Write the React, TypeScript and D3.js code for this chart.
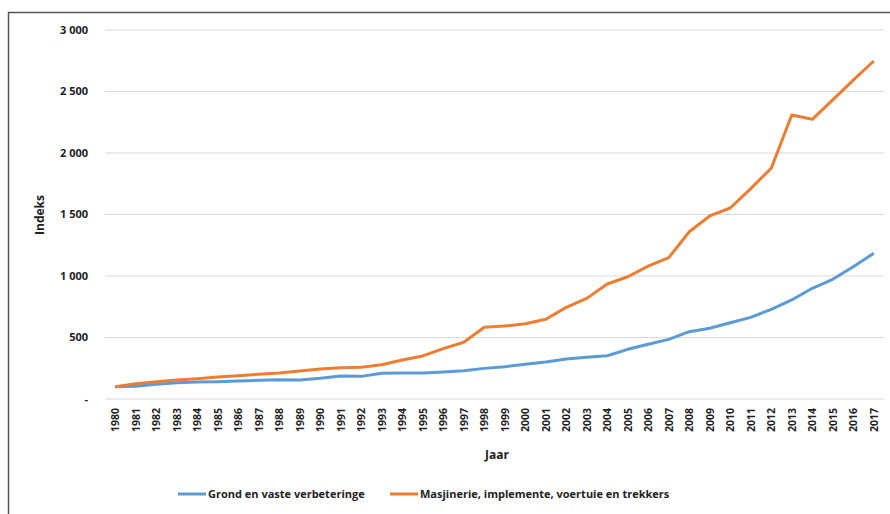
import React from "react";
import * as d3 from "d3";

const years = d3.range(1980, 2018).map(String);
const grond = [100, 104, 119, 133, 138, 141, 146, 152, 157, 154, 168, 187, 184, 209, 211, 212, 220, 230, 249, 263, 282, 301, 325, 340, 352, 404, 445, 485, 547, 575, 620, 664, 729, 805, 900, 973, 1075, 1184];
const masjinerie = [100, 124, 141, 154, 165, 179, 190, 201, 211, 228, 244, 255, 258, 279, 317, 350, 409, 461, 583, 593, 612, 648, 745, 818, 935, 994, 1080, 1149, 1360, 1488, 1553, 1710, 1876, 2309, 2274, 2432, 2592, 2748];
const yTicks = [0, 500, 1000, 1500, 2000, 2500, 3000];
const seriesNames = ["Grond en vaste verbeteringe", "Masjinerie, implemente, voertuie en trekkers"];
const colors = ["#5b9bd5", "#ed7d31"];

const W = 890, H = 514;
const left = 105, right = 884, top = 30, bottom = 399;
const font = "'Open Sans', sans-serif";

export default function App() {
  const x = d3.scaleBand<string>().domain(years).range([left, right]);
  const y = d3.scaleLinear().domain([0, 3000]).range([bottom, top]);
  const line = d3.line<number>()
    .x((_, i) => (x(years[i]) as number) + x.bandwidth() / 2)
    .y((d) => y(d));
  const fmt = (v: number) => (v === 0 ? "-" : d3.format(",")(v).replace(/,/g, " "));
  const data = [grond, masjinerie];
  return (
    <svg width={W} height={H} style={{ position: "absolute", left: 0, top: 0, background: "#fff" }}>
      <rect x={8.5} y={12.5} width={W} height={H} fill="none" stroke="#555" strokeWidth={1.5} />
      {yTicks.map((t) => (
        <g key={t}>
          <line x1={left} x2={right} y1={y(t)} y2={y(t)} stroke="#d9d9d9" strokeWidth={1.2} />
          <text x={88} y={y(t)} dy="0.35em" textAnchor="end" fontFamily={font} fontWeight={700} fontSize={11} fill="#222">
            {fmt(t)}
          </text>
        </g>
      ))}
      {years.map((yr) => {
        const cx = (x(yr) as number) + x.bandwidth() / 2;
        return (
          <text key={yr} transform={`translate(${cx + 4},${408}) rotate(-90)`} textAnchor="end" fontFamily={font} fontWeight={700} fontSize={10.5} fill="#222">
            {yr}
          </text>
        );
      })}
      {data.map((d, i) => (
        <path key={i} d={line(d) || ""} fill="none" stroke={colors[i]} strokeWidth={3} strokeLinejoin="round" />
      ))}
      <text transform={`translate(44,215) rotate(-90)`} textAnchor="middle" fontFamily={font} fontWeight={700} fontSize={12} fill="#222">
        Indeks
      </text>
      <text x={497} y={459} textAnchor="middle" fontFamily={font} fontWeight={700} fontSize={12} fill="#222">
        Jaar
      </text>
      {seriesNames.map((n, i) => {
        const lx = i === 0 ? 178 : 390;
        return (
          <g key={n}>
            <line x1={lx} x2={lx + 28} y1={494} y2={494} stroke={colors[i]} strokeWidth={3} />
            <text x={lx + 30} y={494} dy="0.35em" fontFamily={font} fontWeight={700} fontSize={11} fill="#222">
              {n}
            </text>
          </g>
        );
      })}
    </svg>
  );
}
